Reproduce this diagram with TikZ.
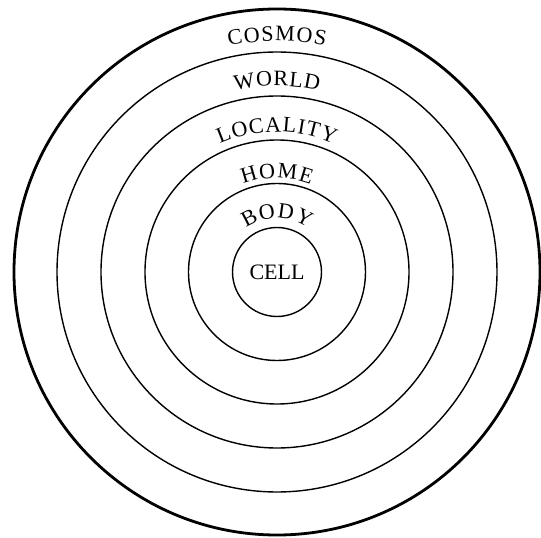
\documentclass[tikz,border=0pt]{standalone}
\usepackage{fontspec}
\setmainfont{Liberation Serif}
\usetikzlibrary{decorations.text}
\tikzset{
  ring/.style={draw=black, line width=1.4pt},
  outerring/.style={draw=black, line width=2.8pt},
  arclabel/.style={decorate, decoration={text along path, text align={fit to path},
     text={|\fontsize{22}{22}\selectfont|#1}}},
  celllabel/.style={font=\fontsize{22}{22}\selectfont, inner sep=0pt}
}
\begin{document}
\begin{tikzpicture}[x=1pt,y=1pt]
\useasboundingbox (-277,-266) rectangle (264,272);
\coordinate (o) at (0,0);
% rings
\draw[outerring] (o) circle[radius=263];
\draw[ring] (o) circle[radius=220];
\draw[ring] (o) circle[radius=176];
\draw[ring] (o) circle[radius=132];
\draw[ring] (o) circle[radius=88.5];
\draw[ring] (o) circle[radius=44.5];
% curved labels
\path[arclabel=COSMOS]   (102:231) arc[start angle=102, end angle=78, radius=231];
\path[arclabel=WORLD]    (103:186) arc[start angle=103, end angle=77, radius=186];
\path[arclabel=LOCALITY] (114:140) arc[start angle=114, end angle=66, radius=140];
\path[arclabel=HOME]     (111:94)  arc[start angle=111, end angle=69, radius=94];
\path[arclabel=BODY]     (125:54)  arc[start angle=125, end angle=55, radius=54];
% centre label
\node[celllabel] (cell) at (o) {CELL};
\end{tikzpicture}
\end{document}
